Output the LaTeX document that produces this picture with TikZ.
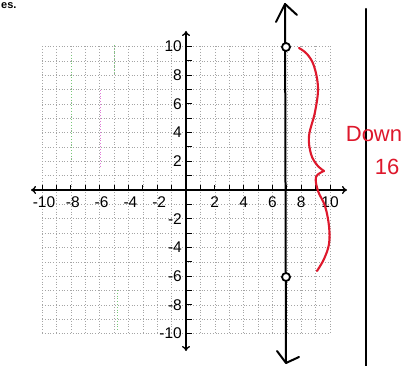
\documentclass[tikz,border=0pt]{standalone}
\usepackage{fontspec}
\setmainfont{Liberation Sans}
\usetikzlibrary{arrows.meta}
\definecolor{handred}{RGB}{222,24,44}
\definecolor{gridgray}{RGB}{165,165,165}
\definecolor{scangreen}{RGB}{120,200,120}
\definecolor{scanpink}{RGB}{225,120,215}
\tikzset{
  gridline/.style={gridgray, line width=0.45pt, dash pattern=on 0.8pt off 2pt},
  axisline/.style={black, line width=1.3pt},
  tickline/.style={black, line width=1pt},
  numlabel/.style={font=\fontsize{15.5}{15.5}\selectfont, inner sep=0pt},
  penline/.style={black, line width=2pt, line cap=round, line join=round},
  redpen/.style={handred, line width=2.1pt, line cap=round, line join=round},
  holept/.style={circle, draw=black, line width=1.8pt, fill=white, minimum size=8pt, inner sep=0pt},
  redtext/.style={text=handred, font=\fontsize{22}{22}\selectfont, inner sep=0pt}
}
\begin{document}
\begin{tikzpicture}[x=1pt,y=-1pt]
\useasboundingbox (0,0) rectangle (407,366);
\fill[white] (0,0) rectangle (407,366);
% heading fragment at the top edge
\node[font=\fontsize{11}{11}\selectfont\bfseries, anchor=base west, inner sep=0pt] (head) at (1,9) {es.};
% grid
\foreach \u in {-10,...,10}{
  \draw[gridline] ({186+14.4*\u},46.5) -- ({186+14.4*\u},333.5);
  \draw[gridline] (42,{190-14.35*\u}) -- (330,{190-14.35*\u});
}
% scan tints on a few grid lines
\draw[gridline, scangreen] (71,55) -- (71,160);
\draw[gridline, scanpink] (100,90) -- (100,168);
\draw[gridline, scangreen] (114,45) -- (114,75);
\draw[gridline, scangreen] (117,290) -- (117,330);
% axes
\coordinate (xl) at (31,190);
\coordinate (xr) at (347,190);
\coordinate (yt) at (186,31);
\coordinate (yb) at (186,351);
\draw[axisline, {To[length=5pt,width=8pt]}-{To[length=5pt,width=8pt]}] (xl) -- (xr);
\draw[axisline, {To[length=5pt,width=8pt]}-{To[length=5pt,width=8pt]}] (yt) -- (yb);
% ticks
\foreach \u in {-10,...,-1,1,2,...,10}{
  \draw[tickline] ({186+14.4*\u},190) -- ({186+14.4*\u},185);
  \draw[tickline] (186,{190-14.35*\u}) -- (192,{190-14.35*\u});
}
% labels
\foreach \u in {-10,-8,-6,-4,-2}{
  \node[numlabel] (xlab\u) at ({188+14.4*\u},202) {-\the\numexpr-\u\relax};
  \node[numlabel, anchor=east] (ylab\u) at (182,{190-14.35*\u}) {-\the\numexpr-\u\relax};
}
\foreach \u in {2,4,6,8,10}{
  \node[numlabel] (xlab\u) at ({186+14.4*\u},202) {\u};
  \node[numlabel, anchor=east] (ylab\u) at (182,{190-14.35*\u}) {\u};
}
% vertical line x = 7 with hand-drawn arrowheads
\coordinate (vtop) at (285,4);
\coordinate (vbot) at (286,363);
\coordinate (vtl) at (276,22);
\coordinate (vtr) at (297,15);
\coordinate (vbl) at (277,351);
\coordinate (vbr) at (299,357);
\draw[penline] (vtop) -- (vbot);
\draw[penline] (vtl) -- (vtop) -- (vtr);
\draw[penline] (vbl) -- (vbot) -- (vbr);
% open endpoints
\node[holept] (p1) at (286,47) {};
\node[holept] (p2) at (286,277) {};
% right margin line
\coordinate (mtop) at (366,9);
\coordinate (mbot) at (366,366);
\draw[penline, line width=2.2pt] (mtop) -- (mbot);
% red brace
\draw[redpen] plot[smooth, tension=0.6] coordinates {
  (299,48) (307,54) (314,66) (318,88) (315,112) (309,136) (311,154)
  (317,165) (324,171)};
\draw[redpen] plot[smooth, tension=0.6] coordinates {
  (324,171) (316,177) (318,191) (325,206) (329,226) (329,244) (324,259) (317,271)};
% handwritten note
\node[redtext] (down) at (374,134) {Down};
\node[redtext] (sixteen) at (387,167) {16};
\end{tikzpicture}
\end{document}
